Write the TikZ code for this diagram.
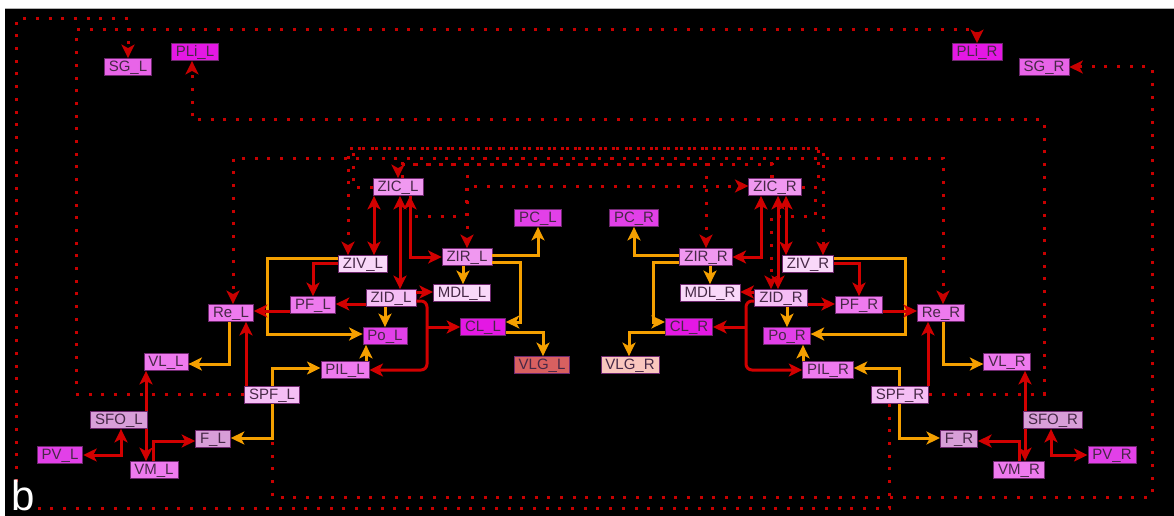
\documentclass[tikz,border=0pt]{standalone}
\usepackage{fontspec}
\setmainfont{Liberation Sans}
\usetikzlibrary{arrows.meta}
\definecolor{cBright}{RGB}{228,24,228}
\definecolor{cMag}{RGB}{226,64,232}
\definecolor{cSG}{RGB}{232,100,232}
\definecolor{cViolet}{RGB}{238,122,238}
\definecolor{cZIC}{RGB}{240,152,240}
\definecolor{cZID}{RGB}{245,190,245}
\definecolor{cZIV}{RGB}{249,216,249}
\definecolor{cSFO}{RGB}{216,158,216}
\definecolor{cVLGL}{RGB}{216,96,96}
\definecolor{cVLGR}{RGB}{249,198,190}
\definecolor{cBorder}{RGB}{110,40,110}
\definecolor{cText}{RGB}{70,40,70}
\definecolor{cRed}{RGB}{210,0,0}
\definecolor{cDot}{RGB}{200,0,0}
\definecolor{cOrange}{RGB}{245,160,0}
\tikzset{
  nb/.style={draw=cBorder, line width=0.8pt, text=cText, font=\fontsize{15}{15}\selectfont,
    inner xsep=4.5pt, inner ysep=0pt, minimum height=17pt, text height=11pt, text depth=2.5pt},
  kbright/.style={nb, fill=cBright},
  kmag/.style={nb, fill=cMag},
  ksg/.style={nb, fill=cSG},
  kviolet/.style={nb, fill=cViolet},
  kzic/.style={nb, fill=cZIC},
  kzid/.style={nb, fill=cZID},
  kziv/.style={nb, fill=cZIV},
  ksfo/.style={nb, fill=cSFO},
  kvlgl/.style={nb, fill=cVLGL},
  kvlgr/.style={nb, fill=cVLGR},
  rarr/.style={draw=cRed, line width=3pt, ->},
  rboth/.style={draw=cRed, line width=3pt, <->},
  oarr/.style={draw=cOrange, line width=3pt, ->},
  darr/.style={draw=cDot, line width=3pt, dash pattern=on 3pt off 9.7pt, ->},
}
\begin{document}
\begin{tikzpicture}[x=1pt,y=-1pt,>={Stealth[length=13.5pt,width=13pt,inset=3.5pt]}]
\useasboundingbox (0,0) rectangle (1174,516);
\fill[white] (0,0) rectangle (1174,516);
\fill[black] (5,8) rectangle (1174,516);
\draw[gray!60, line width=0.8pt] (5,8) -- (1174,8);

% nodes left
\node[ksg] (sg_l) at (128,67) {SG\_L};
\node[kbright] (pli_l) at (195,52) {PLi\_L};
\node[kbright] (pli_r) at (977,52) {PLi\_R};
\node[ksg] (sg_r) at (1044,67) {SG\_R};
\node[kzic] (zic_l) at (398,187) {ZIC\_L};
\node[kmag] (pc_l) at (538,218) {PC\_L};
\node[kziv] (ziv_l) at (363,264) {ZIV\_L};
\node[kzic] (zir_l) at (467,257) {ZIR\_L};
\node[kziv] (mdl_l) at (462,293) {MDL\_L};
\node[kzid] (zid_l) at (391,298) {ZID\_L};
\node[kviolet] (pf_l) at (313,305) {PF\_L};
\node[kviolet] (re_l) at (231,313) {Re\_L};
\node[kmag] (po_l) at (385,336) {Po\_L};
\node[kbright] (cl_l) at (483,327) {CL\_L};
\node[kvlgl] (vlg_l) at (542,365) {VLG\_L};
\node[kviolet] (pil_l) at (345,370) {PIL\_L};
\node[kviolet] (vl_l) at (166,362) {VL\_L};
\node[kzid] (spf_l) at (272,395) {SPF\_L};
\node[ksfo] (sfo_l) at (119,420) {SFO\_L};
\node[ksfo] (f_l) at (213,439) {F\_L};
\node[kmag] (pv_l) at (60,455) {PV\_L};
\node[kviolet] (vm_l) at (154,470) {VM\_L};
% nodes right
\node[kzic] (zic_r) at (775,187) {ZIC\_R};
\node[kmag] (pc_r) at (634,218) {PC\_R};
\node[kzic] (zir_r) at (706,257) {ZIR\_R};
\node[kziv] (ziv_r) at (808,264) {ZIV\_R};
\node[kziv] (mdl_r) at (710,293) {MDL\_R};
\node[kzid] (zid_r) at (781,298) {ZID\_R};
\node[kviolet] (pf_r) at (859,305) {PF\_R};
\node[kviolet] (re_r) at (941,313) {Re\_R};
\node[kmag] (po_r) at (787,336) {Po\_R};
\node[kbright] (cl_r) at (689,327) {CL\_R};
\node[kvlgr] (vlg_r) at (630,365) {VLG\_R};
\node[kviolet] (pil_r) at (828,370) {PIL\_R};
\node[kviolet] (vl_r) at (1007,362) {VL\_R};
\node[kzid] (spf_r) at (900,395) {SPF\_R};
\node[ksfo] (sfo_r) at (1053,420) {SFO\_R};
\node[ksfo] (f_r) at (959,439) {F\_R};
\node[kviolet] (vm_r) at (1019,470) {VM\_R};
\node[kmag] (pv_r) at (1112,455) {PV\_R};

% dotted connectors
\draw[darr] (272,0 |- spf_l.south) -- (272,497) -- (1152,497) -- (1152,67) -- (sg_r.east);
\draw[darr] (889,0 |- spf_r.south) -- (889,508) -- (16,508) -- (16,19) -- (128,19) -- (sg_l.north);
\draw[darr] (spf_l.west |- 0,394) -- (76,394) -- (76,30) -- (977,30) -- (pli_r.north);
\draw[darr] (spf_r.east |- 0,394) -- (1044,394) -- (1044,120) -- (192,120) -- (192,0 |- pli_l.south);
\draw[darr] (771,0 |- zic_r.north) -- (771,158) -- (233,158) -- (233,0 |- re_l.north);
\draw[darr] (402,0 |- zic_l.north) -- (402,158) -- (943,158) -- (943,0 |- re_r.north);
\draw[darr] (772,0 |- zic_r.north) -- (772,164) -- (398,164) -- (398,0 |- zic_l.north);
\draw[darr] (772,0 |- zic_r.north) -- (772,164) -- (467,164) -- (467,0 |- zir_l.north);
\draw[darr] (402,0 |- zic_l.north) -- (402,164) -- (706,164) -- (706,0 |- zir_r.north);
\draw[darr] (410,0 |- zic_l.south) -- (410,216) -- (466,216) -- (466,186) -- (zic_r.west |- 0,186);
\draw[darr] (zic_r.east) -- (815,187) -- (815,216) -- (771,216) -- (771,0 |- zid_r.north);
\draw[darr] (zic_r.east) -- (818,187) -- (818,148) -- (348,148) -- (348,0 |- ziv_l.north);
\draw[darr] (zic_l.west) -- (353,187) -- (353,148) -- (823,148) -- (823,0 |- ziv_r.north);

\node[text=white, font=\fontsize{42}{42}\selectfont, anchor=base west, inner sep=0pt] (lab) at (11,510) {b};

% solid connectors left
\draw[rboth] (374,0 |- zic_l.south) -- (374,0 |- ziv_l.north);
\draw[rboth] (400,0 |- zic_l.south) -- (400,0 |- zid_l.north);
\draw[rboth] (410,0 |- zic_l.south) |- (zir_l.west);
\draw[oarr] (463,0 |- zir_l.south) -- (463,0 |- mdl_l.north);
\draw[oarr] (zir_l.east |- 0,255) -| (pc_l.south);
\draw[oarr] (zir_l.east |- 0,262) -- (520,262) -- (520,322) -- (cl_l.east |- 0,322);
\draw[oarr] (cl_l.east |- 0,332) -| (543,0 |- vlg_l.north);
\draw[rarr] (ziv_l.west |- 0,263) -| (pf_l.north);
\draw[oarr] (ziv_l.west |- 0,258) -- (267,258) -- (267,334) -- (po_l.west |- 0,334);
\draw[rarr] (zid_l.west |- 0,304) -- (pf_l.east |- 0,304);
\draw[rarr] (pf_l.west |- 0,311) -- (re_l.east |- 0,311);
\draw[oarr] (385,0 |- zid_l.south) -- (385,0 |- po_l.north);
\draw[rarr] (zid_l.east |- 0,292) -- (mdl_l.west |- 0,292);
\draw[rarr, rounded corners=6pt] (zid_l.east |- 0,301) -- (427,301) -- (427,370) -- (pil_l.east |- 0,370);
\draw[rarr] (427,327) -- (cl_l.west |- 0,327);
\draw[rarr] (246,0 |- spf_l.north) -- (246,0 |- re_l.south);
\draw[oarr] (229,0 |- re_l.south) -- (229,364) -- (vl_l.east |- 0,364);
\draw[oarr] (272,0 |- spf_l.north) |- (pil_l.west |- 0,368);
\draw[oarr] (366,0 |- pil_l.north) -- (366,0 |- po_l.south);
\draw[oarr] (272,0 |- spf_l.south) |- (f_l.east |- 0,438);
\draw[rarr] (146,0 |- sfo_l.north) -- (146,0 |- vl_l.south);
\draw[rarr] (146,0 |- sfo_l.south) -- (146,0 |- vm_l.north);
\draw[rarr] (153,0 |- vm_l.north) |- (f_l.west |- 0,441);
\draw[rboth] (121,0 |- sfo_l.south) |- (pv_l.east |- 0,455);

% solid connectors right
\draw[rboth] (761,0 |- zic_r.south) |- (zir_r.east);
\draw[rboth] (778,0 |- zic_r.south) -- (778,0 |- zid_r.north);
\draw[rboth] (786,0 |- zic_r.south) -- (786,0 |- ziv_r.north);
\draw[oarr] (zir_r.west |- 0,255) -| (pc_r.south);
\draw[oarr] (zir_r.west |- 0,262) -- (653,262) -- (653,322) -- (cl_r.west |- 0,322);
\draw[oarr] (710,0 |- zir_r.south) -- (710,0 |- mdl_r.north);
\draw[oarr] (cl_r.west |- 0,332) -| (629,0 |- vlg_r.north);
\draw[rarr] (zid_r.west |- 0,292) -- (mdl_r.east |- 0,292);
\draw[rarr, rounded corners=6pt] (zid_r.west |- 0,301) -- (746,301) -- (746,370) -- (pil_r.west |- 0,370);
\draw[rarr] (746,327) -- (cl_r.east |- 0,327);
\draw[oarr] (787,0 |- zid_r.south) -- (787,0 |- po_r.north);
\draw[rarr] (zid_r.east |- 0,304) -- (pf_r.west |- 0,304);
\draw[rarr] (ziv_r.east |- 0,263) -| (pf_r.north);
\draw[oarr] (ziv_r.east |- 0,258) -- (905,258) -- (905,334) -- (po_r.east |- 0,334);
\draw[rarr] (pf_r.east |- 0,311) -- (re_r.west |- 0,311);
\draw[oarr] (803,0 |- pil_r.north) -- (803,0 |- po_r.south);
\draw[oarr] (899,0 |- spf_r.north) |- (pil_r.east |- 0,368);
\draw[rarr] (928,0 |- spf_r.north) -- (928,0 |- re_r.south);
\draw[oarr] (943,0 |- re_r.south) -- (943,364) -- (vl_r.west |- 0,364);
\draw[oarr] (899,0 |- spf_r.south) |- (f_r.west |- 0,438);
\draw[rarr] (1025,0 |- sfo_r.north) -- (1025,0 |- vl_r.south);
\draw[rarr] (1025,0 |- sfo_r.south) -- (1025,0 |- vm_r.north);
\draw[rarr] (1019,0 |- vm_r.north) |- (f_r.east |- 0,441);
\draw[rboth] (1051,0 |- sfo_r.south) |- (pv_r.west |- 0,455);
\end{tikzpicture}
\end{document}
